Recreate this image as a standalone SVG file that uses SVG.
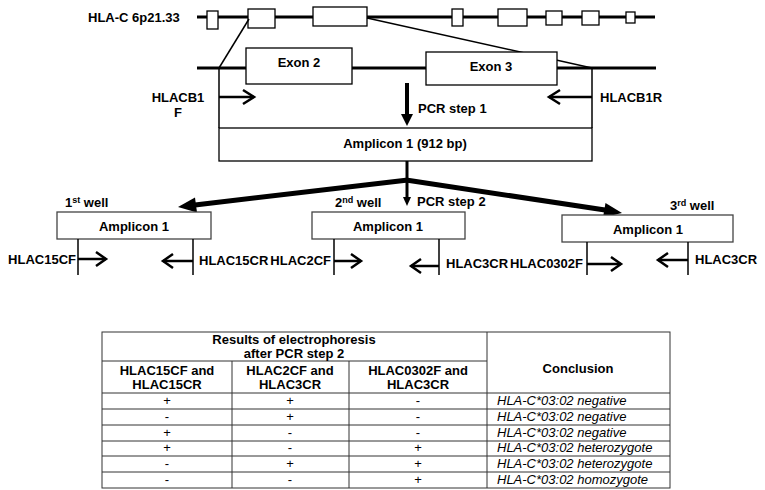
<svg xmlns="http://www.w3.org/2000/svg" width="765" height="490" viewBox="0 0 765 490">
<style>
text{font-family:"Liberation Sans",Arial,sans-serif;font-size:13px;fill:#000}
.b{font-weight:bold}
.m{text-anchor:middle}
.e{text-anchor:end}
.box{fill:#fff;stroke:#000;stroke-width:1.3}
.wbox{fill:#fff;stroke:#444;stroke-width:1.3}
.ln{stroke:#000;stroke-width:3;fill:none}
.thin{stroke:#000;stroke-width:1.5;fill:none}
.pr{stroke:#000;stroke-width:2.5;fill:none}
.ch{stroke:#000;stroke-width:2.5;fill:none;stroke-linejoin:miter}
.tl{stroke:#333;stroke-width:1;fill:none}
.it{font-style:italic}
.sup{font-size:9px}
</style>
<rect width="765" height="490" fill="#fff"/>

<g id="gene">
<text class="b" x="88" y="22">HLA-C 6p21.33</text>
<line class="ln" x1="197" y1="17" x2="655" y2="17"/>
<rect class="box" x="207" y="11" width="11" height="18"/>
<rect class="box" x="248" y="9" width="27" height="19"/>
<rect class="box" x="313" y="7" width="54" height="19"/>
<rect class="box" x="452" y="9" width="11" height="17"/>
<rect class="box" x="498" y="9" width="29" height="17"/>
<rect class="box" x="546" y="11" width="16" height="14"/>
<rect class="box" x="582" y="11" width="17" height="14"/>
<rect class="box" x="626" y="12" width="9" height="11"/>
</g>

<g id="connectors">
<line class="thin" x1="249" y1="19" x2="219" y2="68"/>
<line class="thin" x1="367" y1="18" x2="592" y2="68"/>
<line class="ln" x1="197" y1="68" x2="656" y2="68"/>
<line class="thin" x1="219" y1="68" x2="219" y2="128"/>
<line class="thin" x1="592" y1="68" x2="592" y2="128"/>
<!-- PCR step 1 arrow -->
<line stroke="#000" stroke-width="4" x1="407" y1="83" x2="407" y2="116"/>
<polygon points="401,114 413,114 407,126" fill="#000"/>
<!-- branch -->
<line stroke="#000" stroke-width="3" x1="407" y1="161" x2="407" y2="198"/>
<polygon points="403,197 411,197 407,206" fill="#000"/>
<line stroke="#000" stroke-width="5" x1="408" y1="180" x2="195" y2="205"/>
<polygon points="178,207 197,212.5 195,197.5" fill="#000"/>
<line stroke="#000" stroke-width="5" x1="406" y1="180" x2="605" y2="210"/>
<polygon points="622,213 603,217.5 605.5,203" fill="#000"/>
</g>

<g id="exon2">
<rect class="box" x="246" y="48" width="106" height="36"/>
<text class="b m" x="299" y="67">Exon 2</text>
</g>
<g id="exon3">
<rect class="box" x="426" y="52" width="131" height="33"/>
<text class="b m" x="491" y="71">Exon 3</text>
</g>

<g id="primers1">
<line class="pr" x1="219" y1="97" x2="254" y2="97"/>
<polyline class="ch" points="243,90 254,97 243,104"/>
<line class="pr" x1="592" y1="97" x2="549" y2="97"/>
<polyline class="ch" points="560,90 549,97 560,104"/>
<text class="b m" x="178" y="102">HLACB1</text>
<text class="b m" x="178" y="117">F</text>
<text class="b" x="600" y="102">HLACB1R</text>
<text class="b" x="418" y="113">PCR step 1</text>
</g>

<g id="amplicon">
<rect class="box" x="219" y="128" width="373" height="33"/>
<text class="b m" x="405" y="148">Amplicon 1 (912 bp)</text>
</g>

<text class="b" x="417" y="206">PCR step 2</text>

<g id="well1">
<text class="b" x="65" y="207">1<tspan class="sup" dy="-4">st</tspan><tspan dy="4"> well</tspan></text>
<rect class="wbox" x="57" y="212" width="154" height="27"/>
<text class="b m" x="134" y="231">Amplicon 1</text>
<line class="thin" x1="78" y1="239" x2="78" y2="275"/>
<line class="thin" x1="193" y1="239" x2="193" y2="275"/>
<line class="pr" x1="78" y1="259" x2="106" y2="259"/>
<polyline class="ch" points="96,252 106,259 96,266"/>
<line class="pr" x1="193" y1="261" x2="163" y2="261"/>
<polyline class="ch" points="173,254 163,261 173,268"/>
<text class="b e" x="76" y="264">HLAC15CF</text>
<text class="b" x="199" y="265">HLAC15CR</text>
</g>

<g id="well2">
<text class="b" x="335" y="207">2<tspan class="sup" dy="-4">nd</tspan><tspan dy="4"> well</tspan></text>
<rect class="wbox" x="312" y="212" width="153" height="27"/>
<text class="b m" x="388" y="231">Amplicon 1</text>
<line class="thin" x1="334" y1="239" x2="334" y2="275"/>
<line class="thin" x1="439" y1="239" x2="439" y2="275"/>
<line class="pr" x1="334" y1="261" x2="361" y2="261"/>
<polyline class="ch" points="351,254 361,261 351,268"/>
<line class="pr" x1="439" y1="266" x2="411" y2="266"/>
<polyline class="ch" points="421,259 411,266 421,273"/>
<text class="b e" x="331" y="265">HLAC2CF</text>
<text class="b" x="446" y="268">HLAC3CR</text>
</g>

<g id="well3">
<text class="b" x="670" y="210">3<tspan class="sup" dy="-4">rd</tspan><tspan dy="4"> well</tspan></text>
<rect class="wbox" x="562" y="215" width="171" height="27"/>
<text class="b m" x="648" y="234">Amplicon 1</text>
<line class="thin" x1="587" y1="242" x2="587" y2="275"/>
<line class="thin" x1="688" y1="242" x2="688" y2="275"/>
<line class="pr" x1="587" y1="264" x2="621" y2="264"/>
<polyline class="ch" points="611,257 621,264 611,271"/>
<line class="pr" x1="688" y1="260" x2="658" y2="260"/>
<polyline class="ch" points="668,253 658,260 668,267"/>
<text class="b e" x="583" y="268">HLAC0302F</text>
<text class="b" x="695" y="264">HLAC3CR</text>
</g>

<g id="table">
<rect class="tl" x="102" y="332" width="568" height="156"/>
<line class="tl" x1="102" y1="361" x2="487" y2="361"/>
<line class="tl" x1="102" y1="393" x2="670" y2="393"/>
<line class="tl" x1="102" y1="409" x2="670" y2="409"/>
<line class="tl" x1="102" y1="425" x2="670" y2="425"/>
<line class="tl" x1="102" y1="441" x2="670" y2="441"/>
<line class="tl" x1="102" y1="456" x2="670" y2="456"/>
<line class="tl" x1="102" y1="472" x2="670" y2="472"/>
<line class="tl" x1="232" y1="361" x2="232" y2="488"/>
<line class="tl" x1="349" y1="361" x2="349" y2="488"/>
<line class="tl" x1="487" y1="332" x2="487" y2="488"/>
<text class="b m" x="294" y="344">Results of electrophoresis</text>
<text class="b m" x="294" y="358">after PCR step 2</text>
<text class="b m" x="167" y="375">HLAC15CF and</text>
<text class="b m" x="167" y="389">HLAC15CR</text>
<text class="b m" x="290" y="375">HLAC2CF and</text>
<text class="b m" x="290" y="389">HLAC3CR</text>
<text class="b m" x="418" y="375">HLAC0302F and</text>
<text class="b m" x="418" y="389">HLAC3CR</text>
<text class="b m" x="578" y="373">Conclusion</text>

<text class="m" x="167" y="405">+</text><text class="m" x="290" y="405">+</text><text class="m" x="418" y="405">-</text>
<text class="it" x="497" y="405">HLA-C*03:02 negative</text>
<text class="m" x="167" y="421">-</text><text class="m" x="290" y="421">+</text><text class="m" x="418" y="421">-</text>
<text class="it" x="497" y="421">HLA-C*03:02 negative</text>
<text class="m" x="167" y="437">+</text><text class="m" x="290" y="437">-</text><text class="m" x="418" y="437">-</text>
<text class="it" x="497" y="437">HLA-C*03:02 negative</text>
<text class="m" x="167" y="452">+</text><text class="m" x="290" y="452">-</text><text class="m" x="418" y="452">+</text>
<text class="it" x="497" y="452">HLA-C*03:02 heterozygote</text>
<text class="m" x="167" y="468">-</text><text class="m" x="290" y="468">+</text><text class="m" x="418" y="468">+</text>
<text class="it" x="497" y="468">HLA-C*03:02 heterozygote</text>
<text class="m" x="167" y="484">-</text><text class="m" x="290" y="484">-</text><text class="m" x="418" y="484">+</text>
<text class="it" x="497" y="484">HLA-C*03:02 homozygote</text>
</g>
</svg>
